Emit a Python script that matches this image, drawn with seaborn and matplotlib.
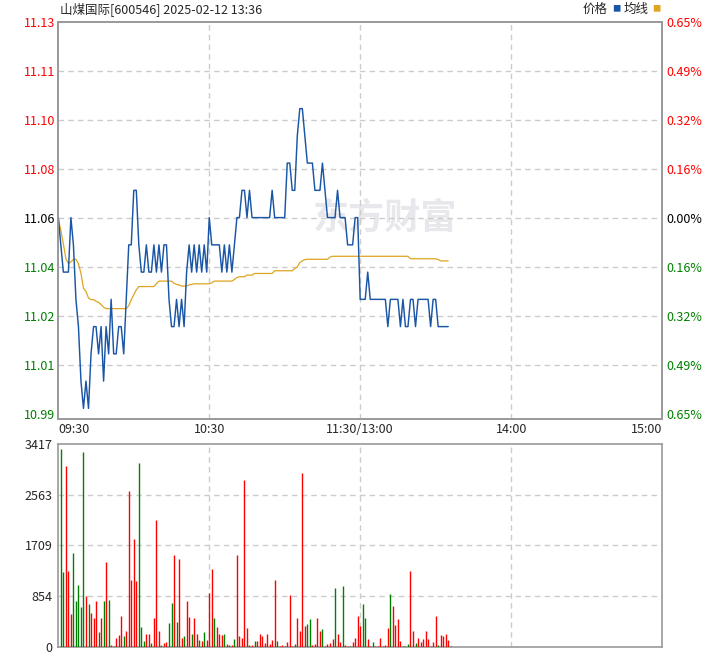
import numpy as np
import pandas as pd
import seaborn as sns
import matplotlib
matplotlib.use("Agg")
from matplotlib import pyplot as plt

# ---------------- data ----------------
title = "山煤国际[600546] 2025-02-12 13:36"
pre_close = 11.06

price = [11.06, 11.05, 11.04, 11.04, 11.04, 11.06, 11.05, 11.03, 11.02, 11.00,
         10.99, 11.00, 10.99, 11.01, 11.02, 11.02, 11.01, 11.02, 11.00, 11.02,
         11.01, 11.03, 11.01, 11.01, 11.02, 11.02, 11.01, 11.03, 11.05, 11.05,
         11.07, 11.07, 11.05, 11.04, 11.04, 11.05, 11.04, 11.04, 11.05, 11.04,
         11.05, 11.04, 11.05, 11.05, 11.03, 11.02, 11.02, 11.03, 11.02, 11.03,
         11.02, 11.04, 11.05, 11.04, 11.05, 11.04, 11.05, 11.04, 11.05, 11.04,
         11.06, 11.05, 11.05, 11.05, 11.05, 11.04, 11.05, 11.04, 11.05, 11.04,
         11.05, 11.06, 11.06, 11.07, 11.07, 11.06, 11.07, 11.06, 11.06, 11.06,
         11.06, 11.06, 11.06, 11.06, 11.06, 11.07, 11.06, 11.06, 11.06, 11.06,
         11.06, 11.08, 11.08, 11.07, 11.07, 11.09, 11.10, 11.10, 11.09, 11.08,
         11.08, 11.08, 11.07, 11.07, 11.07, 11.08, 11.07, 11.06, 11.06, 11.06,
         11.06, 11.07, 11.06, 11.06, 11.06, 11.05, 11.05, 11.05, 11.06, 11.06,
         11.03, 11.03, 11.03, 11.04, 11.03, 11.03, 11.03, 11.03, 11.03, 11.03,
         11.03, 11.02, 11.03, 11.03, 11.03, 11.03, 11.02, 11.03, 11.02, 11.02,
         11.03, 11.03, 11.02, 11.03, 11.03, 11.03, 11.03, 11.03, 11.02, 11.03,
         11.03, 11.02, 11.02, 11.02, 11.02, 11.02]

avg_price = [11.0594, 11.0552, 11.0504, 11.0449, 11.0431, 11.0437, 11.0447, 11.0447, 11.0431, 11.0395,
             11.0341, 11.0329, 11.0305, 11.0299, 11.0299, 11.0293, 11.0289, 11.0281, 11.0271, 11.0266,
             11.0266, 11.0266, 11.0266, 11.0266, 11.0266, 11.0266, 11.0266, 11.0266, 11.0277, 11.0299,
             11.0317, 11.0335, 11.0347, 11.0347, 11.0347, 11.0347, 11.0347, 11.0347, 11.0347, 11.0357,
             11.0367, 11.0367, 11.0367, 11.0367, 11.0367, 11.0367, 11.0359, 11.0355, 11.0353, 11.0349,
             11.0349, 11.0349, 11.0353, 11.0355, 11.0357, 11.0357, 11.0357, 11.0357, 11.0357, 11.0357,
             11.0357, 11.0361, 11.0367, 11.0367, 11.0367, 11.0367, 11.0367, 11.0367, 11.0367, 11.0367,
             11.0373, 11.0380, 11.0383, 11.0383, 11.0383, 11.0389, 11.0389, 11.0389, 11.0395, 11.0395,
             11.0395, 11.0395, 11.0395, 11.0395, 11.0395, 11.0395, 11.0405, 11.0405, 11.0405, 11.0405,
             11.0405, 11.0405, 11.0405, 11.0405, 11.0413, 11.0419, 11.0435, 11.0441, 11.0446, 11.0447,
             11.0447, 11.0447, 11.0447, 11.0447, 11.0447, 11.0447, 11.0447, 11.0447, 11.0455, 11.0458,
             11.0458, 11.0458, 11.0458, 11.0458, 11.0458, 11.0458, 11.0458, 11.0458, 11.0458, 11.0458,
             11.0458, 11.0458, 11.0458, 11.0458, 11.0458, 11.0458, 11.0458, 11.0458, 11.0458, 11.0458,
             11.0458, 11.0458, 11.0458, 11.0458, 11.0458, 11.0458, 11.0458, 11.0458, 11.0458, 11.0458,
             11.0449, 11.0449, 11.0449, 11.0449, 11.0449, 11.0449, 11.0449, 11.0449, 11.0449, 11.0449,
             11.0449, 11.0446, 11.0441, 11.0441, 11.0441, 11.0441]

volume = [3334, 1265, 3051, 1287, 555, 1586, 771, 1037, 671, 3284,
          854, 721, 571, 488, 771, 255, 488, 771, 1437, 788,
          39, 22, 155, 205, 521, 189, 272, 2618, 1120, 1819,
          1104, 3101, 338, 105, 222, 222, 72, 488, 2136, 272,
          39, 72, 89, 405, 738, 1553, 422, 1487, 155, 189,
          771, 505, 222, 488, 222, 122, 105, 255, 122, 904,
          1320, 488, 338, 222, 205, 222, 55, 39, 39, 139,
          1553, 189, 155, 2818, 322, 39, 39, 105, 105, 222,
          189, 72, 222, 55, 122, 1120, 105, 22, 39, 22,
          89, 871, 22, 55, 488, 272, 2934, 355, 388, 471,
          39, 55, 488, 272, 305, 22, 55, 72, 139, 987,
          222, 89, 1021, 39, 22, 22, 89, 155, 521, 355,
          721, 488, 139, 22, 89, 22, 22, 155, 22, 39,
          322, 888, 688, 372, 471, 105, 22, 22, 55, 1287,
          272, 72, 155, 89, 139, 272, 139, 22, 89, 521,
          39, 205, 189, 222, 122, 22]

# u = up (red), d = down (green)
vol_dir = ("dduuuddddd" "uduuududud" "uduuuduuuu" "uddduuduuu" "duudduduud"
           "uuduududuu" "uduuududud" "uuuuududuu" "uuuuuuduuu" "uuuduuuudd"
           "uuuuduuuud" "uuduuduuuu" "dduuduuuuu" "uduuuudddu" "uduuuuuduu"
           "duuuuu")

time_ticks = [0, 60, 120, 180, 240]
time_labels = ["09:30", "10:30", "11:30/13:00", "14:00", "15:00"]
price_labels = ["11.13", "11.11", "11.10", "11.08", "11.06", "11.04", "11.02", "11.01", "10.99"]
pct_labels = ["0.65%", "0.49%", "0.32%", "0.16%", "0.00%", "0.16%", "0.32%", "0.49%", "0.65%"]
vol_ticks = [0, 854, 1709, 2563, 3417]

# ---------------- style ----------------
sns.set_style("white")
plt.rcParams['font.family'] = ['Noto Sans CJK SC', 'DejaVu Sans']

RED = "#ff0000"
GREEN = "#008000"
BLUE = "#1a56a6"
ORANGE = "#dda520"
FRAME = "#999999"
GRID = "#cccccc"

df = pd.DataFrame({"t": np.arange(len(price)), "price": price, "avg": avg_price})
vol_df = pd.DataFrame({"t": np.arange(len(volume)) + 1, "vol": volume, "dir": list(vol_dir)})

fig = plt.figure(figsize=(7.2, 6.55), dpi=100)
ax = fig.add_axes([0.081, 0.3603, 0.8385, 0.6066])
axv = fig.add_axes([0.081, 0.0122, 0.8385, 0.3099])

# price levels (gridlines) at +/-0.65% split in 8
levels = pre_close * (1 + np.linspace(0.0065, -0.0065, 9))
hi = levels[0]
lo = levels[-1] - (levels[0] - levels[-1]) * 0.014

# watermark
ax.text(130, 11.06, "东方财富", fontsize=26, fontweight="bold", color="#e8e8ec",
        ha="center", va="center", zorder=0)

for lv in levels[1:-1]:
    ax.axhline(lv, color=GRID, ls=(0, (4, 3)), lw=1, zorder=1)
for t in time_ticks[1:-1]:
    ax.axvline(t, color=GRID, ls=(0, (4, 3)), lw=1, zorder=1)
    axv.axvline(t, color=GRID, ls=(0, (4, 3)), lw=1, zorder=1)

sns.lineplot(data=df, x="t", y="avg", ax=ax, color=ORANGE, lw=0.9, zorder=3)
sns.lineplot(data=df, x="t", y="price", ax=ax, color=BLUE, lw=1.05, zorder=4)

ax.set_xlim(0, 240)
ax.set_ylim(lo, hi)
ax.set_xlabel("")
ax.set_ylabel("")
ax.set_yticks(levels)
ax.set_yticklabels(price_labels)
ax.set_xticks(time_ticks)
ax.set_xticklabels(time_labels)
ax.tick_params(length=0, labelsize=9, pad=2)
ax.tick_params(axis="x", pad=3)
xl = ax.get_xticklabels()
xl[0].set_ha("left")
xl[-1].set_ha("right")
for lab, lv in zip(ax.get_yticklabels(), levels):
    if abs(lv - pre_close) < 1e-6:
        lab.set_color("black")
    else:
        lab.set_color(RED if lv > pre_close else GREEN)

ax2 = ax.twinx()
ax2.set_ylim(lo, hi)
ax2.set_yticks(levels)
ax2.set_yticklabels(pct_labels)
ax2.tick_params(length=0, labelsize=9, pad=3)
for lab, lv in zip(ax2.get_yticklabels(), levels):
    if abs(lv - pre_close) < 1e-6:
        lab.set_color("black")
    else:
        lab.set_color(RED if lv > pre_close else GREEN)

for a in (ax, ax2, axv):
    for s in a.spines.values():
        s.set_color(FRAME)
        s.set_linewidth(1.2)

# volume panel
for lv in vol_ticks[1:-1]:
    axv.axhline(lv, color=GRID, ls=(0, (4, 3)), lw=1, zorder=1)
colors = [RED if d == "u" else GREEN for d in vol_df["dir"]]
axv.vlines(vol_df["t"], 0, vol_df["vol"], colors=colors, lw=1.0, zorder=3)
axv.set_xlim(0, 240)
axv.set_ylim(0, vol_ticks[-1])
axv.set_yticks(vol_ticks)
axv.set_yticklabels([str(v) for v in vol_ticks])
axv.set_xticks([])
axv.tick_params(length=0, labelsize=9, pad=4)
axv.get_yticklabels()[0].set_va("center_baseline")

# header
hy = 1 - 9 / 655
fig.text(60 / 720, hy, title, fontsize=9, ha="left", va="center")
fig.text(583 / 720, hy, "价格", fontsize=9, ha="left", va="center")
fig.text(612 / 720, hy, "■", fontsize=6, color=BLUE, ha="left", va="center")
fig.text(624 / 720, hy, "均线", fontsize=9, ha="left", va="center")
fig.text(652 / 720, hy, "■", fontsize=6, color=ORANGE, ha="left", va="center")

fig.savefig("out.png", dpi=100)
